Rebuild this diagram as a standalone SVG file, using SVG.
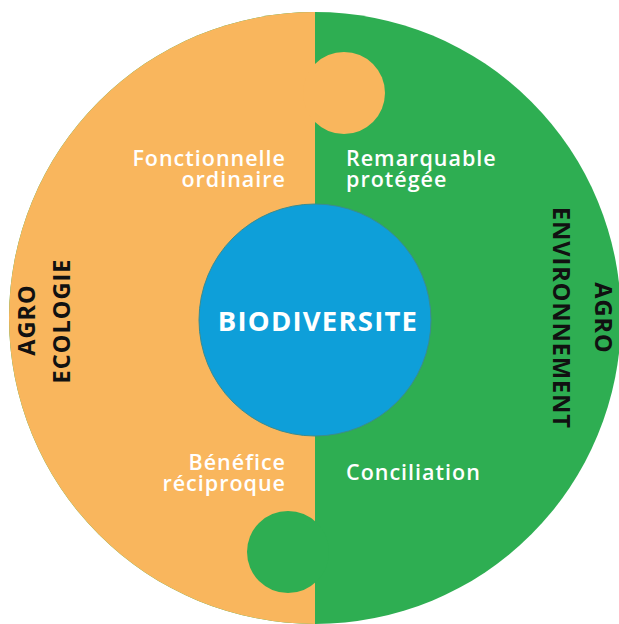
<svg xmlns="http://www.w3.org/2000/svg" width="619" height="624" viewBox="0 0 619 624">
<style>
.lbl{font-family:"Open Sans","Noto Sans","Liberation Sans",sans-serif;font-size:21.5px;font-weight:600;letter-spacing:1px;fill:#ffffff}
.side{font-family:"Open Sans","Noto Sans","Liberation Sans",sans-serif;font-size:23.5px;font-weight:700;letter-spacing:1px;fill:#111111}
.core{font-family:"Open Sans","Noto Sans","Liberation Sans",sans-serif;font-size:27.5px;font-weight:700;letter-spacing:1.2px;fill:#ffffff}
</style>
<rect width="619" height="624" fill="#ffffff"/>
<g id="green-half">
<circle cx="315" cy="318" r="306" fill="#2eae52"/>
</g>
<g id="orange-half">
<path d="M315,12 A306,306 0 0 0 315,624 Z" fill="#f9b65d"/>
<circle cx="344" cy="93" r="41" fill="#f9b65d"/>
</g>
<g id="green-knob">
<circle cx="288" cy="552" r="41" fill="#2eae52"/>
</g>
<g id="connectors"></g>
<g id="biodiversite">
<circle cx="315" cy="320" r="116" fill="#0e9fd9" stroke="#3b8c8f" stroke-width="1"/>
<text class="core" x="318" y="331" text-anchor="middle">BIODIVERSITE</text>
</g>
<g id="fonctionnelle">
<text class="lbl" text-anchor="end"><tspan x="286" y="166">Fonctionnelle</tspan><tspan x="286" y="187">ordinaire</tspan></text>
</g>
<g id="remarquable">
<text class="lbl"><tspan x="346" y="166">Remarquable</tspan><tspan x="346" y="187">protégée</tspan></text>
</g>
<g id="benefice">
<text class="lbl" text-anchor="end"><tspan x="286" y="470">Bénéfice</tspan><tspan x="286" y="491">réciproque</tspan></text>
</g>
<g id="conciliation">
<text class="lbl" x="346" y="480">Conciliation</text>
</g>
<g id="agroecologie">
<text class="side" text-anchor="middle" transform="translate(35,320) rotate(-90)">AGRO</text>
<text class="side" text-anchor="middle" transform="translate(70,321) rotate(-90)">ECOLOGIE</text>
</g>
<g id="agroenvironnement">
<text class="side" text-anchor="middle" transform="translate(595,318) rotate(90)">AGRO</text>
<text class="side" text-anchor="middle" transform="translate(553,318) rotate(90)">ENVIRONNEMENT</text>
</g>
</svg>
